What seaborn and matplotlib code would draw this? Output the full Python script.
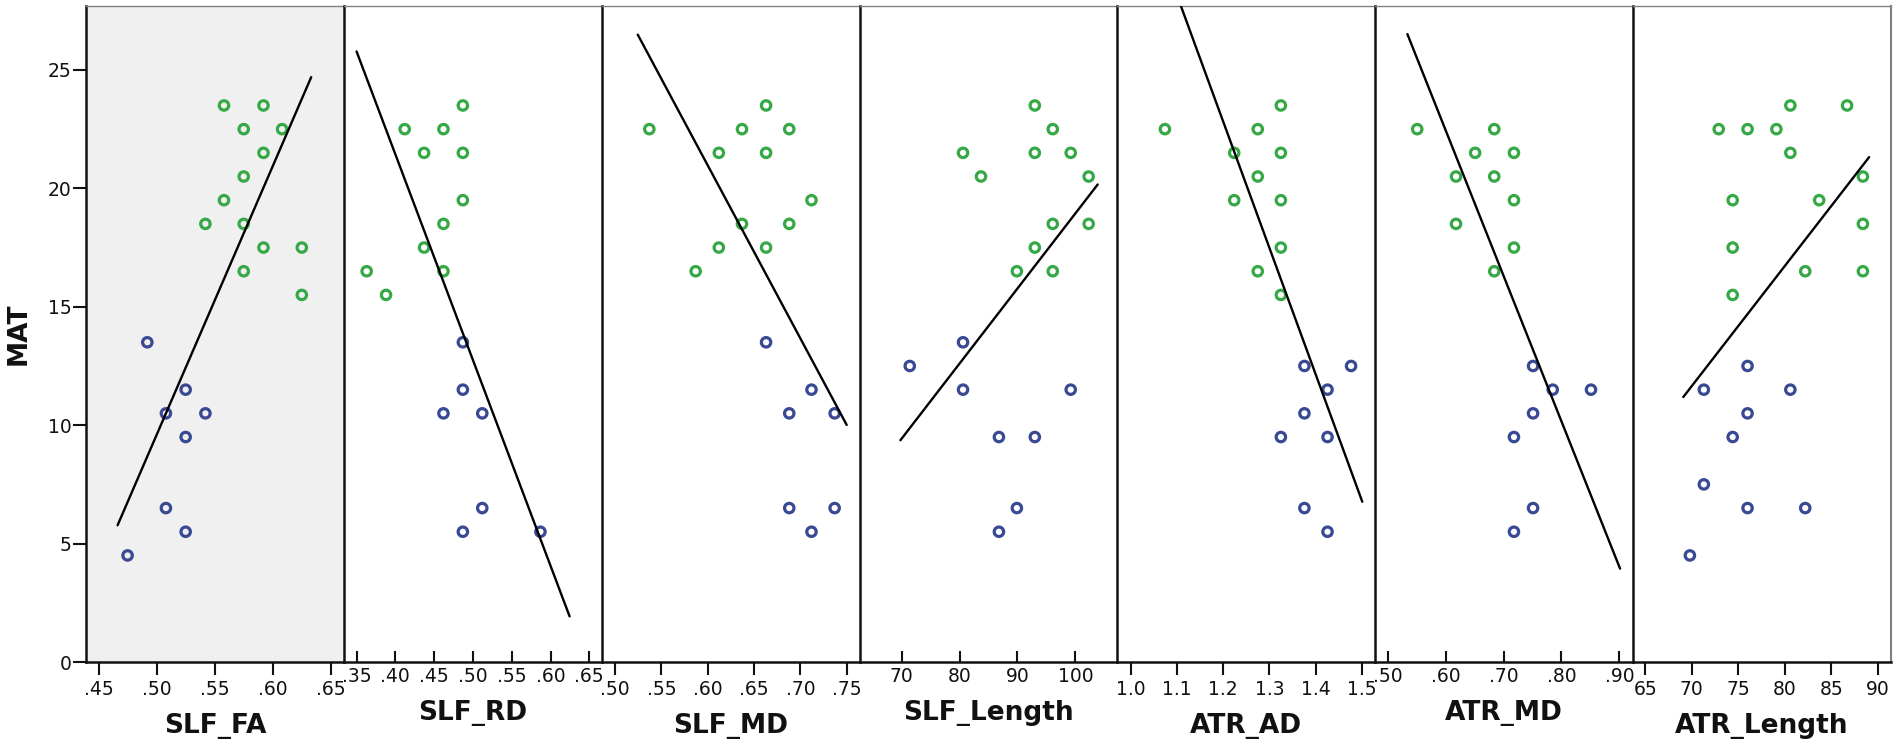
import numpy as np
import pandas as pd
import matplotlib
matplotlib.use("Agg")
import matplotlib.pyplot as plt
import seaborn as sns

# ---------------- data ----------------
VARIABLES = ["SLF_FA", "SLF_RD", "SLF_MD", "SLF_Length", "ATR_AD", "ATR_MD", "ATR_Length"]

SLF_FA_X = [0.558, 0.592, 0.575, 0.608, 0.592, 0.575, 0.558, 0.542, 0.575, 0.592, 0.625, 0.575, 0.625,
            0.492, 0.525, 0.508, 0.542, 0.525, 0.508, 0.525, 0.475]
SLF_FA_Y = [23.5, 23.5, 22.5, 22.5, 21.5, 20.5, 19.5, 18.5, 18.5, 17.5, 17.5, 16.5, 15.5,
            13.5, 11.5, 10.5, 10.5, 9.5, 6.5, 5.5, 4.5]

SLF_RD_X = [0.487, 0.412, 0.462, 0.437, 0.487, 0.487, 0.462, 0.437, 0.363, 0.462, 0.388,
            0.487, 0.487, 0.462, 0.512, 0.512, 0.487, 0.587]
SLF_RD_Y = [23.5, 22.5, 22.5, 21.5, 21.5, 19.5, 18.5, 17.5, 16.5, 16.5, 15.5,
            13.5, 11.5, 10.5, 10.5, 6.5, 5.5, 5.5]

SLF_MD_X = [0.663, 0.537, 0.637, 0.688, 0.612, 0.663, 0.712, 0.637, 0.688, 0.612, 0.663, 0.587,
            0.663, 0.712, 0.688, 0.737, 0.688, 0.737, 0.712]
SLF_MD_Y = [23.5, 22.5, 22.5, 22.5, 21.5, 21.5, 19.5, 18.5, 18.5, 17.5, 17.5, 16.5,
            13.5, 11.5, 10.5, 10.5, 6.5, 6.5, 5.5]

SLF_LEN_X = [93.0, 96.1, 80.6, 93.0, 99.2, 83.7, 102.3, 96.1, 102.3, 93.0, 89.9, 96.1,
             80.6, 71.4, 80.6, 99.2, 86.8, 93.0, 89.9, 86.8]
SLF_LEN_Y = [23.5, 22.5, 21.5, 21.5, 21.5, 20.5, 20.5, 18.5, 18.5, 17.5, 16.5, 16.5,
             13.5, 12.5, 11.5, 11.5, 9.5, 9.5, 6.5, 5.5]

ATR_AD_X = [1.325, 1.074, 1.275, 1.224, 1.325, 1.275, 1.224, 1.325, 1.325, 1.275, 1.325,
            1.376, 1.477, 1.426, 1.376, 1.325, 1.426, 1.376, 1.426]
ATR_AD_Y = [23.5, 22.5, 22.5, 21.5, 21.5, 20.5, 19.5, 19.5, 17.5, 16.5, 15.5,
            12.5, 12.5, 11.5, 10.5, 9.5, 9.5, 6.5, 5.5]

ATR_MD_X = [0.551, 0.684, 0.651, 0.718, 0.618, 0.684, 0.718, 0.618, 0.718, 0.684,
            0.751, 0.785, 0.851, 0.751, 0.718, 0.751, 0.718]
ATR_MD_Y = [22.5, 22.5, 21.5, 21.5, 20.5, 20.5, 19.5, 18.5, 17.5, 16.5,
            12.5, 11.5, 11.5, 10.5, 9.5, 6.5, 5.5]

ATR_LEN_X = [80.6, 86.7, 72.9, 76.0, 79.1, 80.6, 88.4, 74.4, 83.7, 88.4, 74.4, 82.2, 88.4, 74.4,
             76.0, 71.3, 80.6, 76.0, 74.4, 71.3, 76.0, 82.2, 69.8]
ATR_LEN_Y = [23.5, 23.5, 22.5, 22.5, 22.5, 21.5, 20.5, 19.5, 19.5, 18.5, 17.5, 16.5, 16.5, 15.5,
             12.5, 11.5, 11.5, 10.5, 9.5, 7.5, 6.5, 6.5, 4.5]

PANEL_X = [SLF_FA_X, SLF_RD_X, SLF_MD_X, SLF_LEN_X, ATR_AD_X, ATR_MD_X, ATR_LEN_X]
PANEL_Y = [SLF_FA_Y, SLF_RD_Y, SLF_MD_Y, SLF_LEN_Y, ATR_AD_Y, ATR_MD_Y, ATR_LEN_Y]

# linear fit lines (coefficients and span as shown)
FIT_INTERCEPT = [-47.16, 56.18, 64.82, -12.75, 86.80, 59.34, -23.84]
FIT_SLOPE = [113.5, -86.86, -73.08, 0.3169, -53.31, -61.47, 0.507]
FIT_XMIN = [0.4664, 0.350, 0.5245, 69.78, 1.08, 0.534, 69.09]
FIT_XMAX = [0.6331, 0.6246, 0.750, 103.86, 1.5013, 0.9012, 89.07]

# axes ranges and tick labels
XLIM = [(0.4392, 0.6612), (0.3336, 0.666), (0.4856, 0.7639), (62.73, 107.27),
        (0.9712, 1.5294), (0.4786, 0.9238), (63.7, 91.42)]
XTICKS = [[0.45, 0.50, 0.55, 0.60, 0.65],
          [0.35, 0.40, 0.45, 0.50, 0.55, 0.60, 0.65],
          [0.50, 0.55, 0.60, 0.65, 0.70, 0.75],
          [70, 80, 90, 100],
          [1.0, 1.1, 1.2, 1.3, 1.4, 1.5],
          [0.50, 0.60, 0.70, 0.80, 0.90],
          [65, 70, 75, 80, 85, 90]]
XTICKLABELS = [[".45", ".50", ".55", ".60", ".65"],
               [".35", ".40", ".45", ".50", ".55", ".60", ".65"],
               [".50", ".55", ".60", ".65", ".70", ".75"],
               ["70", "80", "90", "100"],
               ["1.0", "1.1", "1.2", "1.3", "1.4", "1.5"],
               [".50", ".60", ".70", ".80", ".90"],
               ["65", "70", "75", "80", "85", "90"]]
YTICKS = [0, 5, 10, 15, 20, 25]
YLIM = (0, 27.7)
Y_LABEL = "MAT"
GROUP_CUT = 15

GREEN = "#36a846"
BLUE = "#3a4993"

# ---------------- drawing ----------------
sns.set_theme(style="ticks")
plt.rcParams['font.family'] = ['DejaVu Sans']

fig, axes = plt.subplots(1, 7, figsize=(19.02, 7.52), dpi=100, sharey=True)
fig.subplots_adjust(left=86 / 1902, right=1891 / 1902, bottom=90 / 752, top=746 / 752, wspace=0)

for i, ax in enumerate(axes):
    df = pd.DataFrame({"x": PANEL_X[i], "MAT": PANEL_Y[i]})
    df["group"] = np.where(df["MAT"] >= GROUP_CUT, "high", "low")
    ax.set_facecolor("#f0f0f0" if i == 0 else "white")
    sns.scatterplot(data=df, x="x", y="MAT", hue="group",
                    palette={"high": GREEN, "low": BLUE},
                    s=46, linewidth=2.3, legend=False, ax=ax, zorder=3)
    coll = ax.collections[-1]
    fc = coll.get_facecolors()
    coll.set_edgecolors(fc)
    coll.set_facecolors("none")

    xs = np.array([FIT_XMIN[i], FIT_XMAX[i]])
    ys = FIT_INTERCEPT[i] + FIT_SLOPE[i] * xs
    ax.plot(xs, ys, color="black", lw=1.7, zorder=4)

    ax.set_xlim(XLIM[i])
    ax.set_xticks(XTICKS[i])
    ax.set_xticklabels(XTICKLABELS[i])
    ax.set_xlabel(VARIABLES[i], fontsize=19, fontweight="bold", labelpad=10, color="#111111")
    if i % 2 == 0:
        ax.tick_params(axis="x", direction="out", length=9.4, width=1.5, pad=3.5,
                       labelsize=13.5, colors="#111111")
    else:
        ax.tick_params(axis="x", direction="in", length=8, width=1.5, pad=3.5,
                       labelsize=13.5, colors="#111111")

    for side in ["left", "bottom"]:
        ax.spines[side].set_color("#111111")
        ax.spines[side].set_linewidth(1.8)
    ax.spines["top"].set_visible(True)
    ax.spines["top"].set_color("#808080")
    ax.spines["top"].set_linewidth(1.0)
    if i == len(axes) - 1:
        ax.spines["right"].set_visible(True)
        ax.spines["right"].set_color("#808080")
        ax.spines["right"].set_linewidth(1.5)
    else:
        ax.spines["right"].set_visible(False)

    if i == 0:
        ax.set_ylabel(Y_LABEL, fontsize=19, fontweight="bold", labelpad=12, color="#111111")
        ax.tick_params(axis="y", direction="out", length=9.4, width=1.5, pad=1,
                       labelsize=13.5, colors="#111111")
    else:
        ax.set_ylabel("")
        ax.tick_params(axis="y", left=False, labelleft=False)

axes[0].set_ylim(YLIM)
axes[0].set_yticks(YTICKS)

fig.savefig("out.png", dpi=100, facecolor="white")
